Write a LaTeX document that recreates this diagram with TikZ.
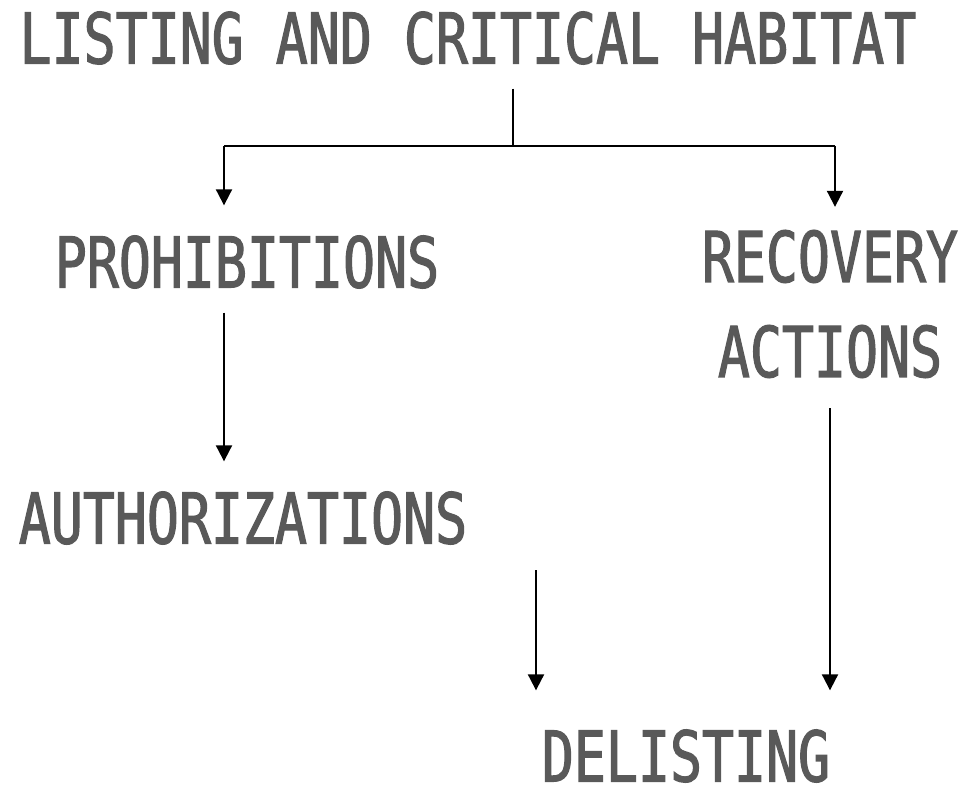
\documentclass[tikz,border=0pt]{standalone}
\usepackage{fontspec}
\newfontfamily\stagefont[FakeStretch=0.76,FakeBold=1.6]{DejaVu Sans Mono}
\usetikzlibrary{arrows.meta}
\definecolor{stagegray}{RGB}{89,89,89}

\begin{document}
\begin{tikzpicture}[x=1pt,y=-1pt]

		\useasboundingbox (0,0) rectangle (963,791);

		\tikzset{stage/.style = {text=stagegray, inner sep=0pt, font=\stagefont\fontsize{70}{95}\selectfont}}
		\tikzset{edge/.style = {-{Triangle[width=16pt,length=16pt]}, line width=2pt}}

		\node[stage] (listing) at (468,38) {LISTING AND CRITICAL HABITAT};
		\node[stage] (prohib) at (247,262) {PROHIBITIONS};
		\node[stage, align=center] (recovery) at (830,304) {RECOVERY\\ACTIONS};
		\node[stage] (author) at (243,518) {AUTHORIZATIONS};
		\node[stage] (delisting) at (686,756) {DELISTING};

		\coordinate (fork) at (513,146);
		\coordinate (forkL) at (224,146);
		\coordinate (forkR) at (835,146);
		\coordinate (loose) at (536,570);

		\draw[line width=2pt] ([yshift=-24pt]listing.south -| fork) -- (fork);
		\draw[line width=2pt] (forkL) -- (forkR);
		\draw[edge, shorten >=30pt] (forkL) -- (forkL |- prohib.north);
		\draw[edge, shorten >=23pt] (forkR) -- (forkR |- recovery.north);

		\draw[edge, shorten <=24pt, shorten >=30pt] (prohib.south -| forkL) -- (author.north -| forkL);
		\draw[edge, shorten <=30pt, shorten >=39pt] (recovery.south) -- (recovery.south |- delisting.north);
		\draw[edge, shorten >=39pt] (loose) -- (loose |- delisting.north);

\end{tikzpicture}
\end{document}
